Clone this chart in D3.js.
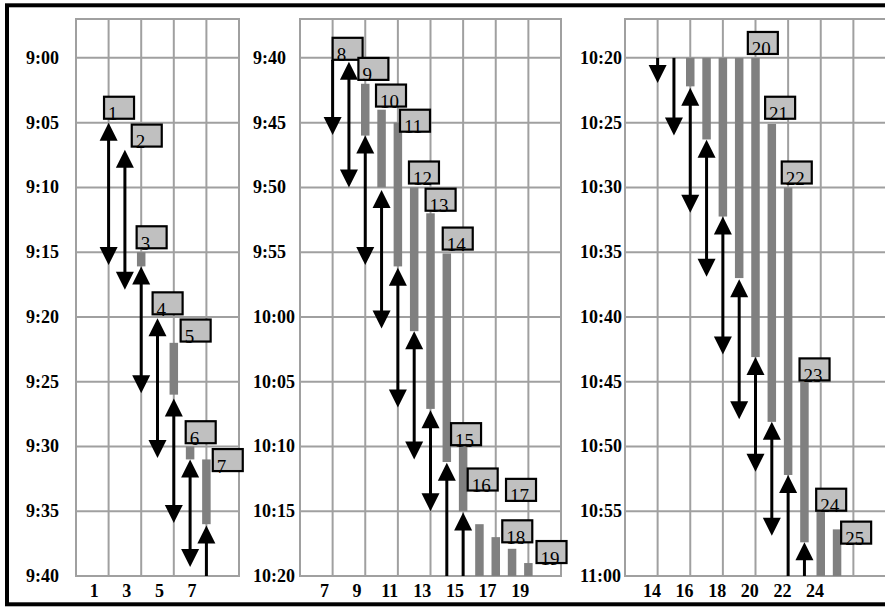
<!DOCTYPE html>
<html><head><meta charset="utf-8">
<script src="https://cdn.jsdelivr.net/npm/d3@7/dist/d3.min.js"></script>
<style>body{margin:0;background:#fff}svg{display:block}</style>
</head><body><svg id="c" width="885" height="607"></svg>
<script>
// ---------- data (minutes counted from each panel's start time) ----------
const yTickMinutes = [0, 5, 10, 15, 20, 25, 30, 35, 40];
const yTickLabels = [
  ["9:00","9:05","9:10","9:15","9:20","9:25","9:30","9:35","9:40"],
  ["9:40","9:45","9:50","9:55","10:00","10:05","10:10","10:15","10:20"],
  ["10:20","10:25","10:30","10:35","10:40","10:45","10:50","10:55","11:00"]
];
const xTickLabels = [[1,3,5,7],[7,9,11,13,15,17,19],[14,16,18,20,22,24]];

// dwell bars: [panel, track, startMin, endMin]
const bars = [
  [0,4,15.0,16.1],[0,6,22.0,26.0],[0,7,30.0,31.0],[0,8,31.0,36.0],
  [1,4,2.0,6.0],[1,5,4.0,10.0],[1,6,5.0,16.1],[1,7,10.0,21.1],[1,8,12.0,27.1],
  [1,9,15.1,31.2],[1,10,30.0,35.0],[1,11,36.0,40],[1,12,37.0,40],[1,13,37.9,40],[1,14,39.0,40],
  [2,4,0,2.2],[2,5,0,6.3],[2,6,0,12.25],[2,7,0,17.0],[2,8,0,23.1],[2,9,5.1,28.1],
  [2,10,10.0,32.2],[2,11,25.0,37.4],[2,12,35.0,40],[2,13,36.4,40]
];

// run arrows: [panel, track, fromMin, toMin, headAtFrom(up), headAtTo(down)]
const arrows = [
  [0,2,5.0,16.0,1,1],[0,3,7.1,17.9,1,1],[0,4,16.1,25.9,1,1],[0,5,20.1,30.9,1,1],
  [0,6,26.3,35.9,1,1],[0,7,31.0,39.3,1,1],[0,8,36.1,40,1,0],
  [1,2,0.15,5.95,0,1],[1,3,0.3,10.0,1,1],[1,4,6.0,16.0,1,1],[1,5,10.2,20.9,1,1],
  [1,6,16.2,27.0,1,1],[1,7,21.1,31.0,1,1],[1,8,27.2,35.0,1,1],[1,9,31.25,40,1,0],[1,10,35.1,40,1,0],
  [2,2,0,1.95,0,1],[2,3,0,6.0,0,1],[2,4,2.3,11.95,1,1],[2,5,6.33,16.9,1,1],
  [2,6,12.25,22.9,1,1],[2,7,17.1,27.9,1,1],[2,8,23.1,31.95,1,1],[2,9,28.1,36.9,1,1],
  [2,10,32.2,40,1,0],[2,11,37.4,40,1,0]
];

// train number tags: [panel, number, leftTrack, bottomMin]
const tags = [
  [0,1,1.72,4.7],[0,2,3.42,6.85],[0,3,3.72,14.7],[0,4,4.70,19.8],[0,5,6.42,21.9],[0,6,6.73,29.75],[0,7,8.39,31.9],
  [1,8,2.0,0.15],[1,9,3.58,1.7],[1,10,4.66,3.76],[1,11,6.13,5.7],[1,12,6.68,9.7],[1,13,7.7,11.8],[1,14,8.75,14.8],
  [1,15,9.26,29.9],[1,16,10.28,33.4],[1,17,12.63,34.2],[1,18,12.4,37.4],[1,19,14.5,39.0],
  [2,20,7.53,-0.3],[2,21,8.59,4.7],[2,22,9.61,9.7],[2,23,10.7,24.9],[2,24,11.72,34.96],[2,25,13.25,37.5]
];

// ---------- layout ----------
const panels = [
  {left:76,  right:239, units:10, labelX:26,  tickOffset:1.12},
  {left:300, right:561, units:16, labelX:253, tickOffset:1.5},
  {left:625, right:886, units:16, labelX:580, tickOffset:1.65}
];
const svg = d3.select("#c");
const y = d3.scaleLinear().domain([-3, 40]).range([19, 576]);
const GRID = "#a0a0a0";
const FONT = "'Liberation Serif','Times New Roman',serif";

panels.forEach((p, pi) => {
  p.x = d3.scaleLinear().domain([0, p.units]).range([p.left, p.right]);
  const g = svg.append("g");
  const x = p.x;
  g.selectAll("line.h").data([-3].concat(yTickMinutes)).enter().append("line")
    .attr("x1", p.left).attr("x2", p.right)
    .attr("y1", d => y(d)).attr("y2", d => y(d))
    .attr("stroke", GRID).attr("stroke-width", 2);
  g.selectAll("line.v").data(d3.range(0, p.units + 1, 2)).enter().append("line")
    .attr("x1", d => x(d)).attr("x2", d => x(d))
    .attr("y1", y(-3) - 1).attr("y2", y(40) + 1)
    .attr("stroke", GRID).attr("stroke-width", 2);
  g.selectAll("text.y").data(yTickMinutes).enter().append("text")
    .attr("x", p.labelX).attr("y", d => y(d) + 6)
    .attr("font-family", FONT).attr("font-weight", "bold").attr("font-size", 18)
    .text((d, i) => yTickLabels[pi][i]);
  g.selectAll("text.x").data(xTickLabels[pi]).enter().append("text")
    .attr("x", (d, i) => x(p.tickOffset + 2 * i)).attr("y", 597)
    .attr("text-anchor", "middle")
    .attr("font-family", FONT).attr("font-weight", "bold").attr("font-size", 18)
    .text(d => d);
});

svg.append("g").selectAll("rect").data(bars).enter().append("rect")
  .attr("x", d => panels[d[0]].x(d[1]) - 4.25).attr("width", 8.5)
  .attr("y", d => y(d[2])).attr("height", d => y(d[3]) - y(d[2]))
  .attr("fill", "#808080");

const HW = 9, HL = 18;
const ag = svg.append("g");
arrows.forEach(d => {
  const x = panels[d[0]].x(d[1]);
  const y1 = y(d[2]), y2 = y(d[3]);
  ag.append("line").attr("x1", x).attr("x2", x)
    .attr("y1", d[4] ? y1 + 6 : y1).attr("y2", d[5] ? y2 - 6 : y2)
    .attr("stroke", "#000").attr("stroke-width", 3);
  if (d[4]) ag.append("path")
    .attr("d", `M${x},${y1}L${x - HW},${y1 + HL}L${x + HW},${y1 + HL}Z`).attr("fill", "#000");
  if (d[5]) ag.append("path")
    .attr("d", `M${x},${y2}L${x - HW},${y2 - HL}L${x + HW},${y2 - HL}Z`).attr("fill", "#000");
});

const tg = svg.append("g").selectAll("g").data(tags).enter().append("g")
  .attr("transform", d => `translate(${panels[d[0]].x(d[2])},${y(d[3])})`);
tg.append("rect").attr("x", 0).attr("y", -22).attr("width", 30).attr("height", 22)
  .attr("fill", "#c0c0c0").attr("stroke", "#000").attr("stroke-width", 2.2);
tg.append("text").attr("x", 4).attr("y", 1.5)
  .attr("font-family", FONT).attr("font-size", 19).attr("fill", "#000")
  .text(d => d[1]);

svg.append("rect").attr("x", 7).attr("y", 5.3).attr("width", 900).attr("height", 599)
  .attr("fill", "none").attr("stroke", "#000").attr("stroke-width", 4);
</script></body></html>
